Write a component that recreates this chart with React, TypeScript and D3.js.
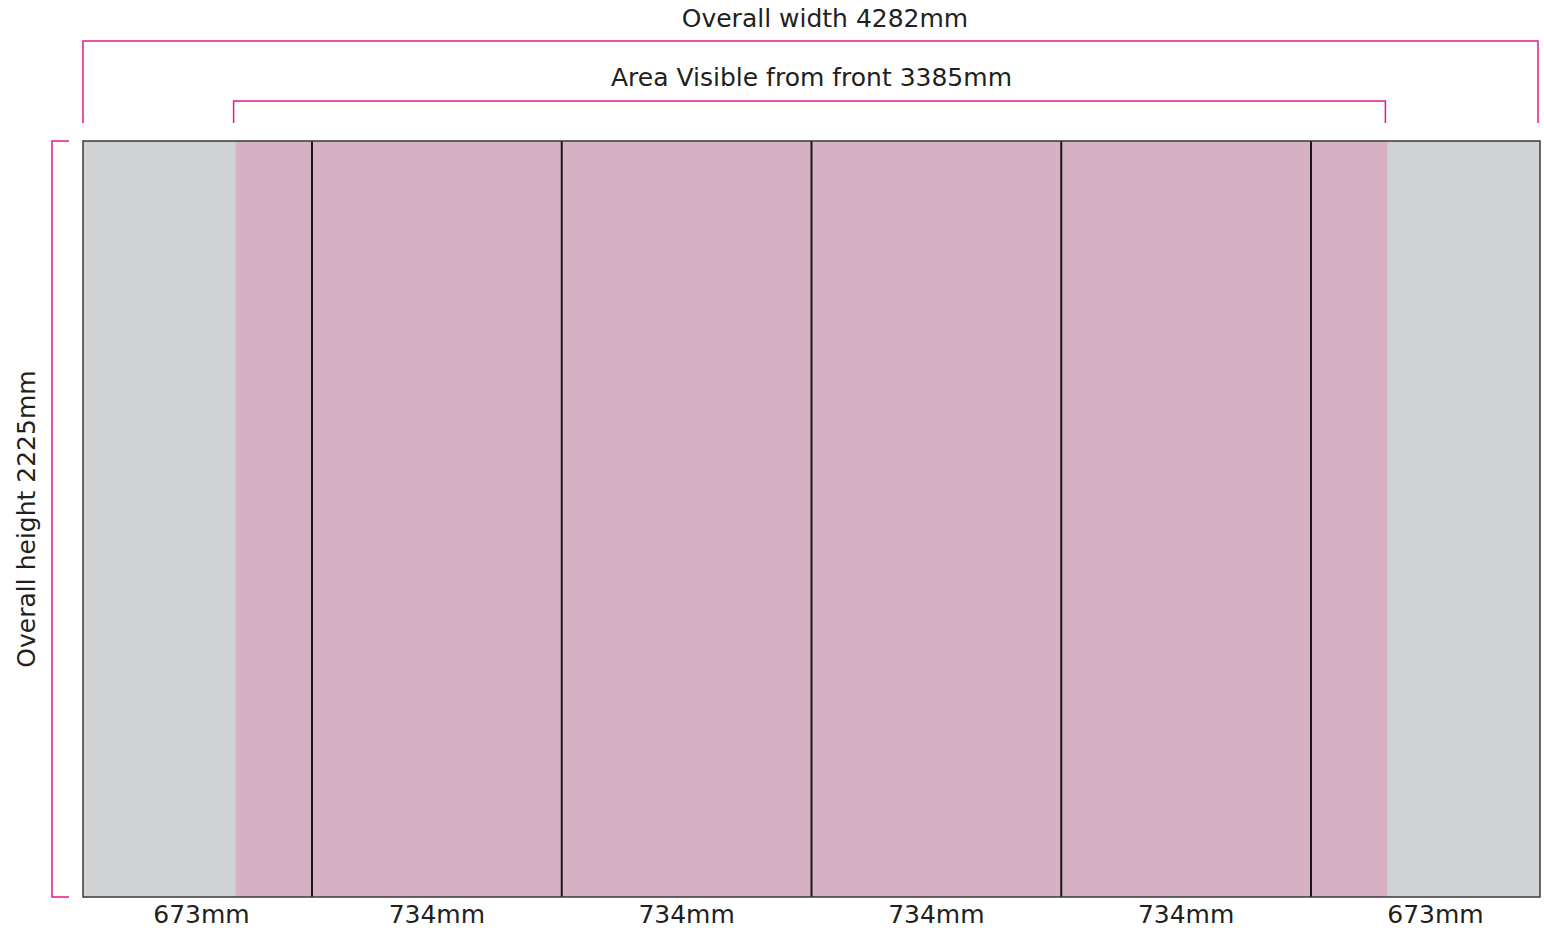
import React from "react";
import * as d3 from "d3";

// panel sizes in mm
const panelWidths = [673, 734, 734, 734, 734, 673];
const panelLabels = ["673mm", "734mm", "734mm", "734mm", "734mm", "673mm"];
const overallWidth = 4282;
const overallHeight = 2225;
const visibleWidth = 3385;

const PINK = "#e6168a";
const FONT = "'DejaVu Sans', Arial, sans-serif";
const FS = 25;

const App = () => {
  const W = 1544;
  const H = 928;

  const x = d3.scaleLinear().domain([0, overallWidth]).range([83, 1540]);
  const y = d3.scaleLinear().domain([0, overallHeight]).range([141, 897]);

  // panel edges (plain array, typed-array map breaks JSX)
  const edges = Array.from(d3.cumsum([0, ...panelWidths]));
  const visStart = (overallWidth - visibleWidth) / 2;
  const visEnd = visStart + visibleWidth;

  const topY = 41;
  const visY = 101;
  const legY = 123;
  const last = panelWidths.length - 1;

  return (
    <svg
      width={W}
      height={H}
      style={{ position: "absolute", left: 0, top: 0, fontFamily: FONT }}
    >
      <rect width={W} height={H} fill="#fff" />

      {/* grey full panel, pink visible area */}
      <rect
        x={x(0)}
        y={y(0)}
        width={x(overallWidth) - x(0)}
        height={y(overallHeight) - y(0)}
        fill="#d1d2d4"
      />
      <rect
        x={x(visStart)}
        y={y(0)}
        width={x(visEnd) - x(visStart)}
        height={y(overallHeight) - y(0)}
        fill="#d6b0c3"
      />

      {/* panel dividers */}
      {edges.slice(1, -1).map((e, i) => (
        <line
          key={i}
          x1={x(e)}
          x2={x(e)}
          y1={y(0)}
          y2={y(overallHeight)}
          stroke="#1a1718"
          strokeWidth={2}
        />
      ))}
      <rect
        x={x(0)}
        y={y(0)}
        width={x(overallWidth) - x(0)}
        height={y(overallHeight) - y(0)}
        fill="none"
        stroke="#3a3a3a"
        strokeWidth={1.5}
      />

      {/* panel labels */}
      {panelWidths.map((w, i) => (
        <text
          key={i}
          x={(x(edges[i]) + x(edges[i + 1])) / 2 + (i === 0 ? 4 : i === last ? 10 : 0)}
          y={923}
          textAnchor="middle"
          fontSize={FS}
          fill="#231f20"
        >
          {panelLabels[i]}
        </text>
      ))}

      {/* overall width bracket */}
      <path
        d={`M${x(0)},${legY}V${topY}H${x(overallWidth) - 2}V${legY}`}
        fill="none"
        stroke={PINK}
        strokeWidth={1.5}
      />
      <text x={825} y={27} textAnchor="middle" fontSize={FS} fill="#231f20">
        {`Overall width ${overallWidth}mm`}
      </text>

      {/* visible area bracket */}
      <path
        d={`M${x(visStart) - 2},${legY}V${visY}H${x(visEnd) - 2}V${legY}`}
        fill="none"
        stroke={PINK}
        strokeWidth={1.5}
      />
      <text
        x={(x(visStart) + x(visEnd)) / 2}
        y={86}
        textAnchor="middle"
        fontSize={FS}
        fill="#231f20"
      >
        {`Area Visible from front ${visibleWidth}mm`}
      </text>

      {/* overall height bracket */}
      <path
        d={`M69,${y(0)}H52V${y(overallHeight)}H69`}
        fill="none"
        stroke={PINK}
        strokeWidth={1.5}
      />
      <text
        transform={`translate(35,${(y(0) + y(overallHeight)) / 2}) rotate(-90)`}
        textAnchor="middle"
        fontSize={FS}
        fill="#231f20"
      >
        {`Overall height ${overallHeight}mm`}
      </text>
    </svg>
  );
};

export default App;
